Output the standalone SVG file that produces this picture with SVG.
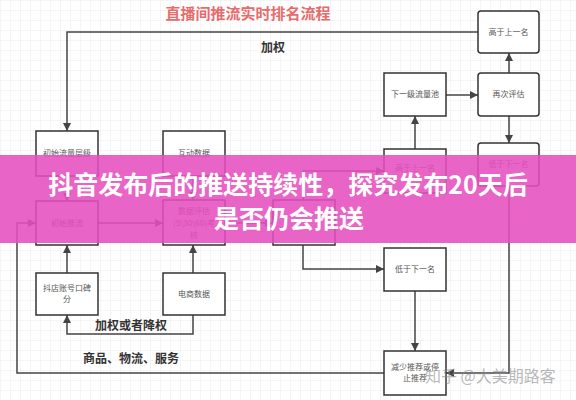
<svg xmlns="http://www.w3.org/2000/svg" width="576" height="400" viewBox="0 0 576 400">
<defs>
<pattern id="grid" width="10" height="10" patternUnits="userSpaceOnUse">
<path d="M10 0H0V10" fill="none" stroke="#ececec" stroke-width="1"/>
</pattern>
<marker id="arr" markerUnits="userSpaceOnUse" markerWidth="10" markerHeight="8" refX="8" refY="4" orient="auto">
<path d="M0 0L8 4L0 8Z" fill="#444"/>
</marker>
<style>
.box{fill:#fff;stroke:#333;stroke-width:1.5}
.t{font-family:"Noto Sans CJK SC","Noto Sans",sans-serif;font-size:8px;fill:#555;text-anchor:middle}
.c{fill:none;stroke:#444;stroke-width:1.5;marker-end:url(#arr)}
.lbl{font-family:"Noto Sans CJK SC","Noto Sans",sans-serif;font-size:12px;font-weight:700;fill:#333;text-anchor:middle}
.ban{font-family:"Noto Sans CJK SC","Noto Sans",sans-serif;font-size:25px;font-weight:700;fill:#fff;text-anchor:middle}
</style>
</defs>
<rect width="576" height="400" fill="#fff"/>
<rect width="576" height="400" fill="url(#grid)"/>
<text x="248" y="19" font-family="Noto Sans CJK SC, sans-serif" font-size="15" font-weight="700" fill="#e86b6b" text-anchor="middle">直播间推流实时排名流程</text>

<g id="connectors">
<path class="c" d="M478 32H67V131"/>
<path class="c" d="M67 176V201"/>
<path class="c" d="M193 176V200"/>
<path class="c" d="M67 273V245"/>
<path class="c" d="M193 273V245"/>
<path class="c" d="M193 315V334H67V315"/>
<path class="c" d="M98 223H163"/>
<path class="c" d="M225 223H273"/>
<path class="c" d="M303 200V171H384"/>
<path class="c" d="M303 245V269H384"/>
<path class="c" d="M415 149V116"/>
<path class="c" d="M446 95H478"/>
<path class="c" d="M509 73V53"/>
<path class="c" d="M509 116V143"/>
<path class="c" d="M509 186V373H446"/>
<path class="c" d="M415 291V351"/>
<path class="c" d="M384 373H17V223H36"/>
</g>

<g id="n-init-level"><rect class="box" x="36" y="131" width="62" height="45"/><text class="t" x="67" y="156">初始流量层级</text></g>
<g id="n-interact"><rect class="box" x="163" y="131" width="62" height="45"/><text class="t" x="194" y="156">互动数据</text></g>
<g id="n-init-push"><rect class="box" x="36" y="201" width="62" height="44"/><text class="t" x="67" y="226">初始推流</text></g>
<g id="n-eval"><rect class="box" x="163" y="200" width="62" height="45"/><text class="t" x="194" y="214">数据评估</text><text class="t" x="194" y="226">(5\30\60)考</text><text class="t" x="194" y="238">核</text></g>
<g id="n-shop"><rect class="box" x="36" y="273" width="62" height="42"/><text class="t" x="67" y="291">抖店账号口碑</text><text class="t" x="67" y="302">分</text></g>
<g id="n-ecom"><rect class="box" x="163" y="273" width="62" height="42"/><text class="t" x="194" y="297">电商数据</text></g>
<g id="n-decision"><rect class="box" x="273" y="200" width="62" height="45"/></g>
<g id="n-higher-mid"><rect class="box" x="384" y="149" width="62" height="44"/><text class="t" x="415" y="171">高于上一名</text></g>
<g id="n-lower-mid"><rect class="box" x="384" y="248" width="62" height="43"/><text class="t" x="415" y="272">低于下一名</text></g>
<g id="n-reduce"><rect class="box" x="384" y="351" width="62" height="44"/><text class="t" x="415" y="370">减少推荐或停</text><text class="t" x="415" y="381">止推荐</text></g>
<g id="n-next-pool"><rect class="box" x="384" y="73" width="62" height="43"/><text class="t" x="415" y="97">下一级流量池</text></g>
<g id="n-reeval"><rect class="box" x="478" y="73" width="61" height="43" rx="3"/><text class="t" x="508.5" y="97">再次评估</text></g>
<g id="n-higher-right"><rect class="box" x="478" y="11" width="61" height="42" rx="3"/><text class="t" x="508.5" y="35">高于上一名</text></g>
<g id="n-lower-right"><rect class="box" x="478" y="143" width="61" height="43" rx="3"/><text class="t" x="508.5" y="167">低于下一名</text></g>

<text class="lbl" x="273" y="52">加权</text>
<text class="lbl" x="131" y="330">加权或者降权</text>
<text class="lbl" x="131" y="363">商品、物流、服务</text>

<text x="425" y="382" font-family="Noto Sans CJK SC, sans-serif" font-size="16" fill="#888" fill-opacity="0.6">知乎 @大美期路客</text>

<rect x="0" y="155" width="576" height="88" fill="#e54fbe" fill-opacity="0.88"/>
<text class="ban" x="288" y="194">抖音发布后的推送持续性，探究发布20天后</text>
<text class="ban" x="289" y="228">是否仍会推送</text>
</svg>
